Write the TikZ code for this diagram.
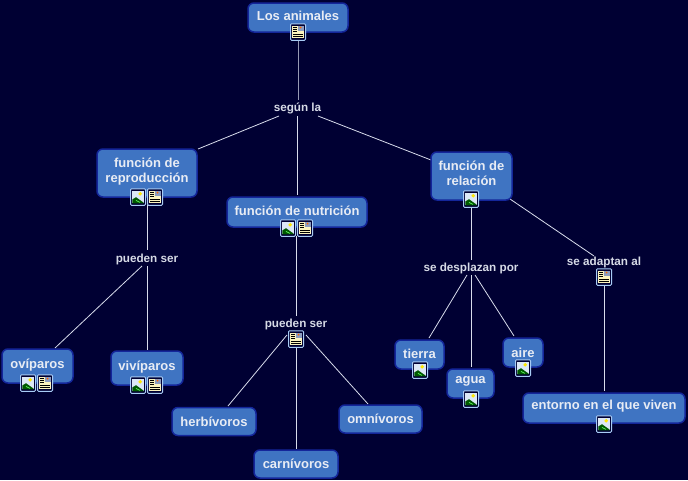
\documentclass[tikz,border=0pt]{standalone}
\usepackage{fontspec}
\setmainfont{Liberation Sans}
\definecolor{bgc}{HTML}{000033}
\definecolor{boxc}{HTML}{3F74C2}
\definecolor{edgec}{HTML}{14269A}
\definecolor{txtc}{HTML}{E8ECF4}
\definecolor{lblc}{HTML}{D6DAE6}
\definecolor{linec}{HTML}{D8DCEC}
\definecolor{iconb}{HTML}{A8CCF6}
\definecolor{skyc}{HTML}{DCE8F6}
\definecolor{docc}{HTML}{FBF3BE}
\definecolor{thumbc}{HTML}{8C9CC0}
\tikzset{
  concept/.style={draw=edgec,line width=1.5pt,fill=boxc,rounded corners=6pt,text=txtc,font=\bfseries\fontsize{13}{15}\selectfont,align=center,inner sep=0pt},
  linker/.style={text=lblc,font=\bfseries\fontsize{11.7}{13}\selectfont,inner sep=0pt},
  conn/.style={draw=linec,line width=0.8pt},
  iconframe/.style={draw=iconb,line width=1pt,fill=bgc,rounded corners=1pt,minimum width=15pt,minimum height=16.5pt,inner sep=0pt},
  pics/imgicon/.style={code={
    \node[iconframe] (-f) at (0,0) {};
    \fill[skyc] (-5.6,-6.4) rectangle (5.6,6.4);
    \fill[yellow!90!orange] (2.2,-3.2) circle (1.9);
    \fill[green!35!black] (-5.6,6.4) -- (-5.6,2.4) -- (-2,0.2) -- (5.6,5.6) -- (5.6,6.4) -- cycle;
    \draw[green!60!white,line width=0.7pt] (-2,3.4) -- (2,5.4);
  }},
  pics/docicon/.style={code={
    \node[iconframe] (-f) at (0,0) {};
    \fill[docc] (-5.6,-6.4) rectangle (5.6,6.4);
    \fill[thumbc] (0,-6.4) rectangle (5.6,-0.8);
    \fill[orange!80!red] (2.6,-4.4) circle (1);
    \foreach \yy in {-4.5,-2.4,-0.3}{\draw[black,line width=0.6pt] (-4.6,\yy) -- (-1,\yy);}
    \foreach \yy in {1.8,4}{\draw[black,line width=0.6pt] (-4.6,\yy) -- (4.6,\yy);}
  }},
}
\newcommand{\cbox}[7]{\node[concept,minimum width=#3 pt-#1 pt,minimum height=#4 pt-#2 pt] (#5) at ({(#1+#3)/2},{(#2+#4)/2}) {};\node[concept,draw=none,fill=none,rounded corners=0pt] (#5t) at ({(#1+#3)/2},{#7}) {#6};}
\begin{document}
\begin{tikzpicture}[x=1pt,y=-1pt]
\path[use as bounding box,fill=bgc] (0,0) rectangle (688,480);
% linking phrases
\node[linker] (segun) at (297.5,108.5) {según la};
\node[linker] (ps1) at (147,259) {pueden ser};
\node[linker] (ps2) at (296,324.5) {pueden ser};
\node[linker] (desp) at (471,268.5) {se desplazan por};
\node[linker] (adap) at (604,262.5) {se adaptan al};
% connector free ends
\coordinate (a1) at (298,40); \coordinate (a2) at (298,100);
\coordinate (b0) at (279,116); \coordinate (b1) at (198,149);
\coordinate (c0) at (297.5,116); \coordinate (c1) at (297.5,195);
\coordinate (d0) at (318,116); \coordinate (d1) at (431,160);
\coordinate (e0) at (147.5,205); \coordinate (e1) at (147.5,250);
\coordinate (f0) at (142,266); \coordinate (f1) at (55,348);
\coordinate (g0) at (147.5,266); \coordinate (g1) at (147.5,350);
\coordinate (h0) at (296.5,236); \coordinate (h1) at (296.5,316);
\coordinate (i0) at (287,335); \coordinate (i1) at (228,406);
\coordinate (j0) at (296.5,347); \coordinate (j1) at (296.5,449);
\coordinate (k0) at (306,335); \coordinate (k1) at (368,404);
\coordinate (l0) at (471.5,206); \coordinate (l1) at (471.5,260);
\coordinate (m0) at (467,275); \coordinate (m1) at (429,338);
\coordinate (n0) at (471.5,275); \coordinate (n1) at (471.5,367);
\coordinate (o0) at (475,275); \coordinate (o1) at (514,336);
\coordinate (p0) at (510,199); \coordinate (p1) at (594,256);
\coordinate (q0) at (604.5,285); \coordinate (q1) at (604.5,391);
\foreach \s/\t in {b0/b1,c0/c1,d0/d1,e0/e1,f0/f1,g0/g1,h0/h1,i0/i1,j0/j1,k0/k1,l0/l1,m0/m1,n0/n1,o0/o1,p0/p1,q0/q1}{\draw[conn] (\s) -- (\t);}
\draw[conn,draw=linec!70!bgc] (a1) -- (a2);
% concepts
\cbox{248}{3}{348}{32}{ani}{Los animales}{15.5}
\cbox{97}{149}{197}{197}{rep}{función de\\reproducción}{171.5}
\cbox{227}{197}{367}{227}{nut}{función de nutrición}{210.5}
\cbox{431}{152}{512}{200}{rel}{función de\\relación}{173}
\cbox{2}{349}{73}{383}{ovi}{ovíparos}{365.5}
\cbox{111}{351}{183}{385}{viv}{vivíparos}{367.5}
\cbox{395}{340}{444}{369}{tie}{tierra}{353.5}
\cbox{447}{369}{494}{398}{agu}{agua}{381.5}
\cbox{503}{338}{543}{367}{air}{aire}{352.5}
\cbox{523}{393}{685}{423}{ent}{entorno en el que viven}{406}
\node[concept,minimum width=84pt,minimum height=28pt] (her) at (214,421.5) {herbívoros};
\node[concept,minimum width=83pt,minimum height=28pt] (omn) at (380.5,419) {omnívoros};
\node[concept,minimum width=84pt,minimum height=28pt] (car) at (296,464) {carnívoros};
% icons
\pic (i1) at (298,32) {docicon};
\pic (i2) at (138,197) {imgicon};
\pic (i3) at (155,197) {docicon};
\pic (i4) at (288,228) {imgicon};
\pic (i5) at (305,228) {docicon};
\pic (i6) at (471,199) {imgicon};
\pic (i7) at (28,383) {imgicon};
\pic (i8) at (45,383) {docicon};
\pic (i9) at (138,385) {imgicon};
\pic (i10) at (155,385) {docicon};
\pic (i11) at (296,339) {docicon};
\pic (i12) at (420,370) {imgicon};
\pic (i13) at (471,399) {imgicon};
\pic (i14) at (523,368) {imgicon};
\pic (i15) at (604,277) {docicon};
\pic (i16) at (604,424) {imgicon};
\end{tikzpicture}
\end{document}
